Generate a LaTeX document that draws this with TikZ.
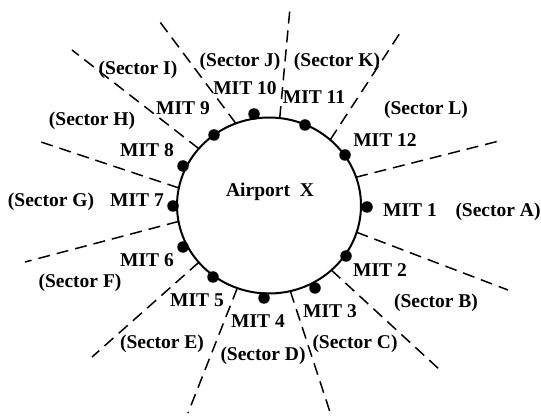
\documentclass[tikz,border=0pt]{standalone}
\usepackage{fontspec}
\setmainfont{Liberation Serif}
\usetikzlibrary{shapes.geometric}
\tikzset{
  lbl/.style={font=\fontsize{19.5}{22}\selectfont\bfseries, inner sep=0pt, text height=12.9pt, text depth=0pt},
  mitdot/.style={circle, fill=black, inner sep=0pt, minimum size=11.5pt},
  sectorline/.style={line width=1.5pt, dash pattern=on 12pt off 7pt},
  airportring/.style={draw, ellipse, line width=2pt, minimum width=184pt, minimum height=176pt, inner sep=0pt, outer sep=0pt}
}
\begin{document}
\begin{tikzpicture}[x=1pt, y=-1pt]
\useasboundingbox (0,0) rectangle (541,419);
\node[airportring] (ap) at (269,205.5) {};
\node[lbl] (apt) at (270,190) {Airport\ \ X};
% sector boundary end points
\coordinate (e1) at (290,8);
\coordinate (e2) at (400,33);
\coordinate (e3) at (503,140);
\coordinate (e4) at (508,290);
\coordinate (e5) at (440,370);
\coordinate (e6) at (330,412);
\coordinate (e7) at (188,413);
\coordinate (e8) at (92,357);
\coordinate (e9) at (25,262);
\coordinate (e10) at (35,140);
\coordinate (e11) at (72,50);
\coordinate (e12) at (157,18);
\draw[sectorline] (ap.83.5) -- (e1);
\draw[sectorline] (ap.47) -- (e2);
\draw[sectorline] (ap.18.7) -- (e3);
\draw[sectorline] (ap.-17.7) -- (e4);
\draw[sectorline] (ap.-46.5) -- (e5);
\draw[sectorline] (ap.-76.4) -- (e6);
\draw[sectorline] (ap.-111.8) -- (e7);
\draw[sectorline] (ap.-141.9) -- (e8);
\draw[sectorline] (ap.190.2) -- (e9);
\draw[sectorline] (ap.169.9) -- (e10);
\draw[sectorline] (ap.141.2) -- (e11);
\draw[sectorline] (ap.112.2) -- (e12);
% MIT dots
\node[mitdot] (d1) at (367,207) {};
\node[mitdot] (d2) at (346,256) {};
\node[mitdot] (d3) at (315,288) {};
\node[mitdot] (d4) at (264,298) {};
\node[mitdot] (d5) at (213,277) {};
\node[mitdot] (d6) at (183,247) {};
\node[mitdot] (d7) at (173,206) {};
\node[mitdot] (d8) at (183,166) {};
\node[mitdot] (d9) at (214,135) {};
\node[mitdot] (d10) at (254,114) {};
\node[mitdot] (d11) at (305,125) {};
\node[mitdot] (d12) at (345,155) {};
% MIT labels
\node[lbl] (t1) at (410,210) {MIT 1};
\node[lbl] (t2) at (380,270) {MIT 2};
\node[lbl] (t3) at (330,311) {MIT 3};
\node[lbl] (t4) at (258,321) {MIT 4};
\node[lbl] (t5) at (197,300) {MIT 5};
\node[lbl] (t6) at (147,260) {MIT 6};
\node[lbl] (t7) at (137,200) {MIT 7};
\node[lbl] (t8) at (147,150) {MIT 8};
\node[lbl] (t9) at (183,108) {MIT 9};
\node[lbl] (t10) at (245,88) {MIT 10};
\node[lbl] (t11) at (314,97) {MIT 11};
\node[lbl] (t12) at (385,140) {MIT 12};
% sector labels
\node[lbl] (sA) at (498,210) {(Sector A)};
\node[lbl] (sB) at (436,301) {(Sector B)};
\node[lbl] (sC) at (355,342) {(Sector C)};
\node[lbl] (sD) at (263,354) {(Sector D)};
\node[lbl] (sE) at (162,342) {(Sector E)};
\node[lbl] (sF) at (80,281) {(Sector F)};
\node[lbl] (sG) at (51,200) {(Sector G)};
\node[lbl] (sH) at (92,119) {(Sector H)};
\node[lbl] (sI) at (138,68) {(Sector I)};
\node[lbl] (sJ) at (240,60) {(Sector J)};
\node[lbl] (sK) at (337,60) {(Sector K)};
\node[lbl] (sL) at (426,108) {(Sector L)};
\end{tikzpicture}
\end{document}
